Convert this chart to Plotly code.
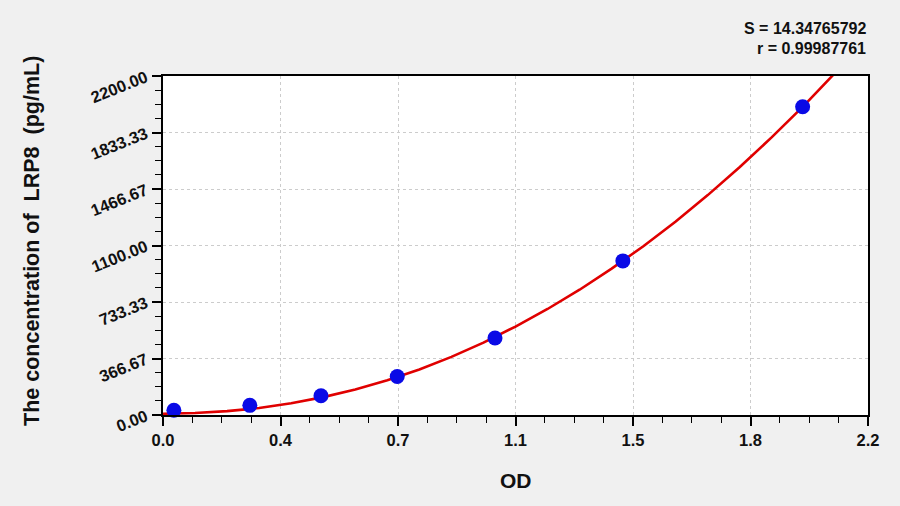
import plotly.graph_objects as go

# standards (OD vs concentration)
od_points = [0.034, 0.271, 0.493, 0.731, 1.036, 1.435, 1.996]
conc_points = [31.25, 62.5, 125, 250, 500, 1000, 2000]

# fitted curve
curve_od = [0.0, 0.1, 0.2, 0.3, 0.4, 0.5, 0.6, 0.7, 0.8, 0.9, 1.0,
            1.1, 1.2, 1.3, 1.4, 1.5, 1.6, 1.7, 1.8, 1.9, 2.0, 2.1]
curve_conc = [8, 13, 25, 45, 76, 116, 165, 225, 295, 377, 470,
              574, 688, 813, 950, 1097, 1256, 1427, 1609, 1803, 2008, 2226]

s_text = "S = 14.34765792"
r_text = "r = 0.99987761"

FONT = "Liberation Sans, Arial, sans-serif"
INK = '#111111'


def main():
    fig = go.Figure()
    fig.add_trace(go.Scatter(x=curve_od, y=curve_conc, mode='lines',
                             line=dict(color='#e00000', width=2.6),
                             showlegend=False, hoverinfo='skip'))
    fig.add_trace(go.Scatter(x=od_points, y=conc_points, mode='markers',
                             marker=dict(color='#0a0ae6', size=15),
                             showlegend=False, cliponaxis=False))

    axis_common = dict(
        showline=True, linecolor='black', linewidth=1.5, mirror=True,
        ticks='outside', ticklen=9, tickwidth=1.5, tickcolor='black',
        showgrid=True, gridcolor='#cccccc', griddash='dot', gridwidth=1,
        zeroline=False,
        tickfont=dict(family=FONT, size=16.5, color=INK, weight='bold'),
    )
    fig.update_xaxes(range=[0, 2.2], tickmode='linear', tick0=0, dtick=2.2 / 6,
                     tickformat='.1f',
                     minor=dict(dtick=2.2 / 24, ticks='outside', ticklen=6,
                                tickcolor='black', tickwidth=1.3, showgrid=False),
                     **axis_common)
    fig.update_yaxes(range=[0, 2200], tickmode='linear', tick0=0, dtick=2200 / 6,
                     tickformat='.2f', tickangle=-22, ticklabelstandoff=3,
                     minor=dict(dtick=2200 / 24, ticks='outside', ticklen=6,
                                tickcolor='black', tickwidth=1.3, showgrid=False),
                     **axis_common)

    fig.update_layout(
        width=900, height=506,
        margin=dict(l=163, r=32, t=76, b=91),
        paper_bgcolor='#f0f0f0', plot_bgcolor='white',
        font=dict(family=FONT, color=INK),
        annotations=[
            dict(text='<b>The concentration of  LRP8  (pg/mL)</b>',
                 xref='paper', yref='paper', x=-0.186, y=0.513,
                 xanchor='center', yanchor='middle',
                 textangle=-90, showarrow=False,
                 font=dict(family=FONT, size=21.5, color=INK)),
            dict(text='<b>OD</b>', xref='paper', yref='paper', x=0.5, y=-0.192,
                 xanchor='center', yanchor='middle',
                 showarrow=False, font=dict(family=FONT, size=21, color=INK)),
            dict(text='<b>' + s_text + '</b>', xref='paper', yref='paper',
                 x=1.0, y=1.139, xanchor='right', yanchor='middle', showarrow=False,
                 font=dict(family=FONT, size=16, color=INK)),
            dict(text='<b>' + r_text + '</b>', xref='paper', yref='paper',
                 x=1.0, y=1.080, xanchor='right', yanchor='middle', showarrow=False,
                 font=dict(family=FONT, size=16, color=INK)),
        ],
    )

    fig.write_html("out.html", config={'displayModeBar': False},
                   post_script="document.body.style.margin='0';"
                               "document.body.style.overflow='hidden';")


if __name__ == '__main__':
    main()
